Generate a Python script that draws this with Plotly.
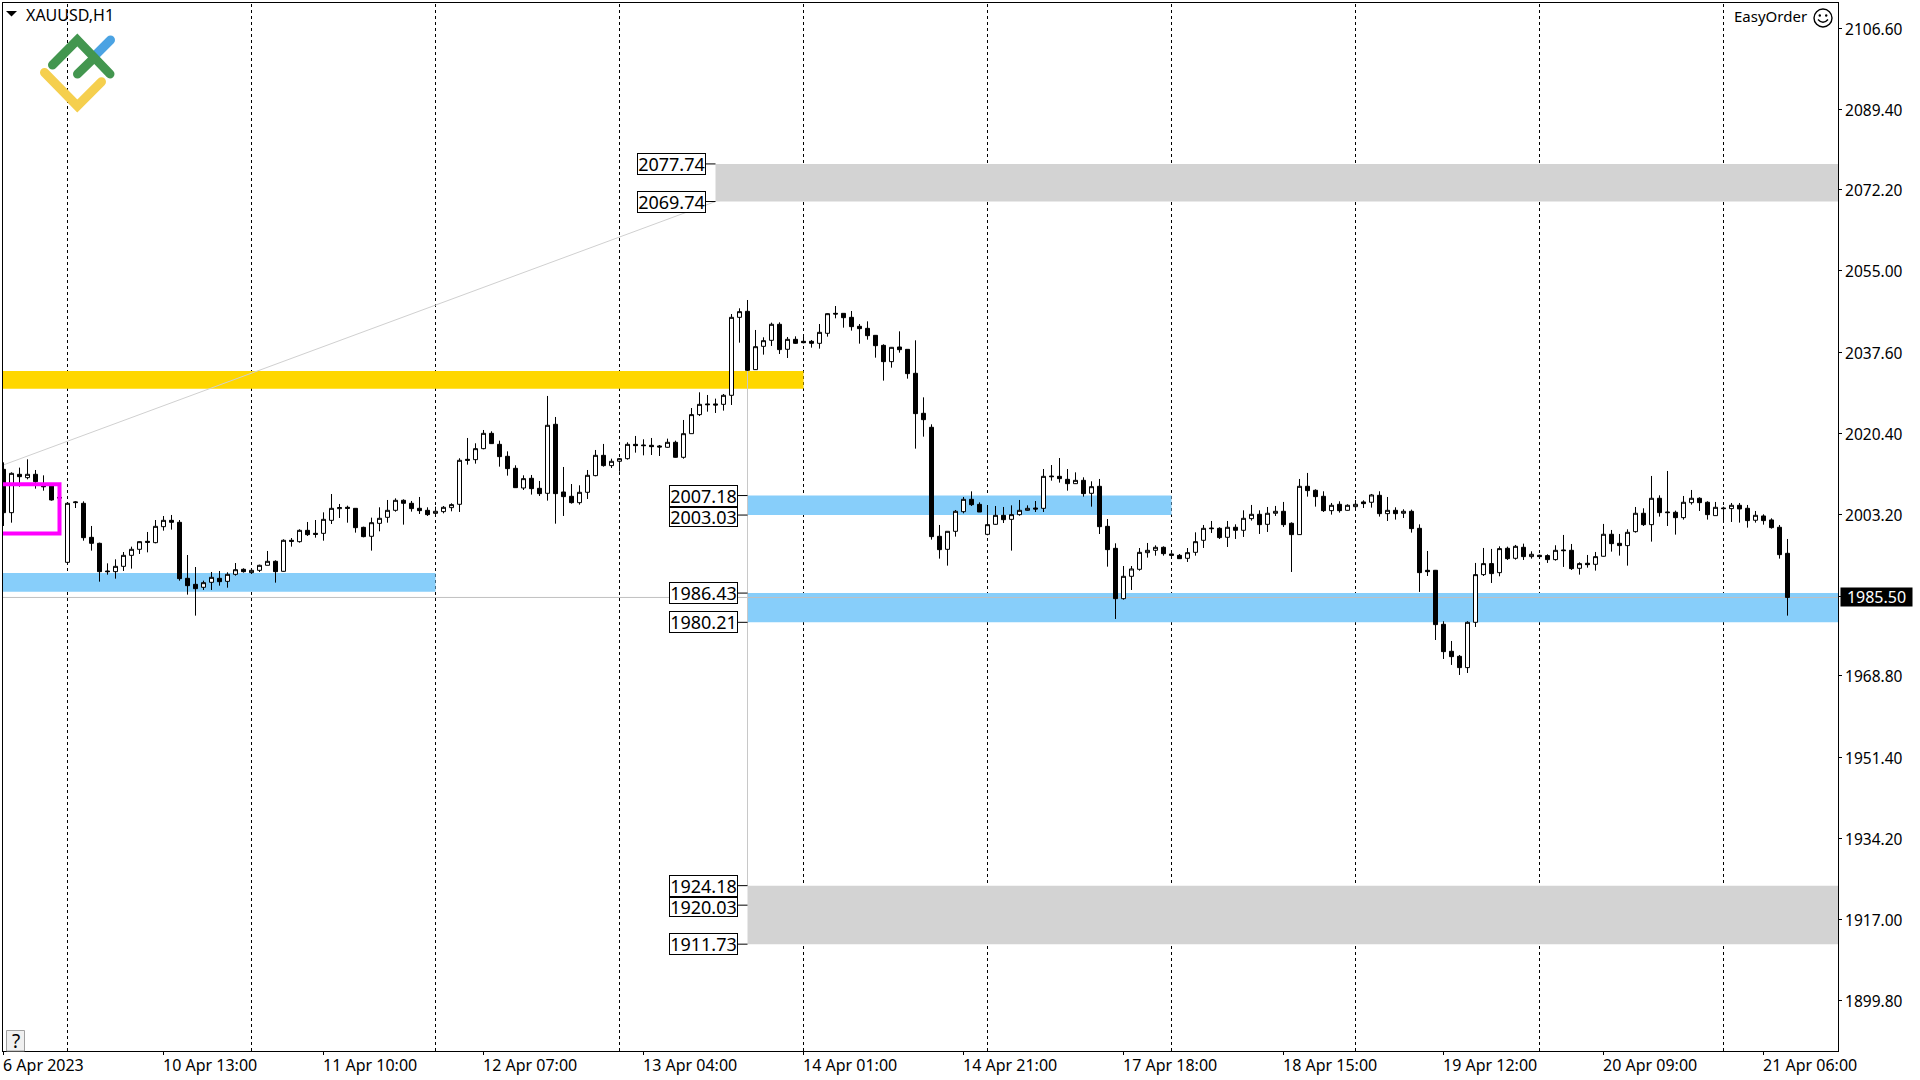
import base64
import plotly.graph_objects as go

# ---------- chart data (XAUUSD H1) ----------
direction = ("BWBWBBBBWW" "BBBBWWWWBW" "WBBBBWWBWW" "BWWWBWBWBB" "WWWBBBWWWW"
             "BBBBWWWWBW" "WBBBBWBBWB" "BBWWWBWWWB" "BBBWBWWWBB" "WWWBWWWBWB"
             "BBWWBBBBBB" "BWBBBBBBWW" "WBBWWBWWWB" "WBBBWBWBBB" "WWWWWBBBWW"
             "WBBWBWWBWW" "BBWBBBWBWW" "BWBWBWBBBB" "BBBWWWBWBW" "BWBBWBBWBW"
             "WBBWWBWBBB" "WWBBWBWBBW" "BBBB")

high_ = [
 2014.25,2012.12,2013.12,2014.89,2012.62,2011.48,2009.22,2007.30,2005.67,2005.95,
 2005.95,2000.71,1997.16,1992.76,1993.61,1995.17,1996.31,1997.44,1999.43,2001.98,
 2002.83,2003.05,2001.98,1994.53,1991.98,1989.07,1990.92,1991.13,1990.85,1992.83,
 1991.70,1991.49,1992.48,1995.39,1993.40,1997.87,1998.15,2000.00,2001.56,2001.98,
 2003.61,2007.51,2005.39,2005.03,2004.46,2000.56,2002.48,2004.68,2006.24,2006.59,
 2006.38,2006.03,2006.88,2004.68,2004.82,2004.96,2005.53,2015.11,2019.43,2018.30,
 2021.13,2020.85,2018.86,2016.59,2013.62,2011.49,2011.56,2010.28,2028.37,2023.90,
 2013.26,2009.64,2009.36,2012.62,2016.88,2018.16,2015.03,2015.18,2018.51,2019.86,
 2019.15,2019.43,2017.94,2019.29,2018.86,2023.26,2025.81,2029.15,2028.58,2027.80,
 2028.79,2045.81,2047.02,2048.79,2042.41,2040.85,2043.97,2044.04,2040.92,2041.06,
 2040.99,2040.28,2043.68,2045.95,2047.51,2045.95,2046.45,2043.68,2044.25,2041.34,
 2039.36,2038.79,2042.12,2038.29,2040.21,2028.08,2022.34,2000.92,1999.57,2004.11,
 2006.88,2008.08,2005.74,2005.17,2004.96,2004.75,2005.10,2006.24,2005.10,2006.02,
 2012.83,2013.68,2015.17,2012.83,2012.12,2011.06,2010.21,2010.71,2002.19,1997.02,
 1992.19,1992.19,1996.02,1997.09,1996.59,1996.38,1994.89,1994.75,1996.02,1999.36,
 2000.92,2001.77,2000.43,2001.77,2001.06,2004.04,2005.18,2004.04,2004.75,2004.97,
 2005.82,2001.49,2010.71,2011.99,2008.51,2008.09,2005.60,2005.96,2005.32,2006.24,
 2006.17,2007.52,2008.09,2006.88,2004.68,2004.26,2004.19,2001.06,1995.39,1991.35,
 1980.43,1976.24,1973.26,1980.43,1992.84,1996.03,1995.82,1996.38,1996.31,1996.67,
 1996.95,1995.32,1994.61,1994.68,1996.60,1998.80,1996.88,1992.98,1994.54,1995.18,
 2001.14,1999.86,1999.01,2000.00,2004.75,2004.47,2011.35,2007.23,2012.41,2003.97,
 2007.09,2008.37,2006.81,2005.96,2005.82,2004.82,2005.60,2005.60,2005.18,2003.90,
 2003.19,2002.34,2000.92,1997.94]

body_top = [
 2012.76,2011.91,2011.70,2011.70,2011.70,2009.22,2009.22,2006.80,2005.53,2005.81,
 2005.53,1998.29,1997.02,1991.13,1992.12,1994.46,1995.74,1997.37,1997.44,2000.63,
 2001.91,2001.91,2001.49,1989.57,1988.29,1988.65,1989.78,1989.57,1990.42,1991.41,
 1991.49,1991.27,1992.34,1993.19,1993.19,1997.66,1997.66,1999.78,1999.78,1999.14,
 2002.12,2004.46,2004.61,2004.68,2004.46,2000.42,2001.41,2002.34,2004.04,2006.17,
 2006.17,2005.53,2004.47,2004.04,2003.83,2004.68,2005.25,2014.68,2014.89,2017.16,
 2020.42,2020.42,2018.08,2015.53,2012.98,2010.78,2010.85,2008.72,2022.13,2022.34,
 2007.94,2007.02,2007.87,2011.49,2015.74,2015.74,2014.47,2015.03,2018.08,2018.08,
 2017.94,2017.87,2017.73,2018.51,2018.51,2020.35,2024.40,2026.59,2026.67,2026.67,
 2028.51,2045.10,2046.31,2046.38,2038.86,2040.14,2043.62,2043.62,2040.42,2040.42,
 2040.00,2040.00,2041.91,2045.88,2045.95,2045.95,2045.10,2043.19,2042.76,2041.27,
 2039.14,2038.72,2038.79,2038.29,2033.19,2024.68,2021.70,1998.51,1999.57,2003.83,
 2006.38,2006.38,2005.31,2000.99,2002.97,2002.97,2003.12,2004.04,2004.46,2004.53,
 2011.27,2011.34,2011.27,2010.63,2010.42,2010.42,2009.07,2009.15,2000.63,1995.95,
 1990.00,1991.56,1995.10,1995.53,1996.17,1996.17,1994.75,1994.46,1995.03,1997.37,
 2000.21,2000.28,2000.21,2000.43,2000.43,2002.34,2003.19,2003.19,2003.41,2003.83,
 2003.83,2001.28,2009.15,2009.15,2008.30,2007.02,2005.11,2005.32,2005.11,2005.32,
 2005.82,2007.31,2007.23,2004.04,2004.04,2003.83,2003.83,2000.21,1991.28,1991.28,
 1979.79,1974.04,1972.98,1980.21,1990.36,1992.70,1992.70,1995.89,1995.96,1996.38,
 1996.17,1994.68,1994.47,1994.40,1995.53,1995.60,1995.53,1992.70,1992.77,1994.19,
 1998.94,1998.94,1997.02,1999.36,2003.41,2003.41,2006.60,2006.60,2003.69,2003.62,
 2005.75,2006.60,2006.60,2005.75,2004.68,2004.54,2005.11,2005.11,2004.47,2002.98,
 2002.84,2001.99,2000.43,1994.89]

body_bot = [
 2003.54,2003.54,2011.20,2010.99,2010.14,2009.07,2006.24,2006.66,1992.97,2005.67,
 1998.22,1997.02,1990.99,1990.99,1990.99,1992.12,1994.46,1995.74,1997.23,1997.16,
 2000.56,2001.49,1989.50,1988.01,1987.37,1987.66,1988.72,1988.86,1988.93,1990.42,
 1990.99,1990.78,1991.27,1992.34,1990.99,1991.06,1997.44,1997.37,1998.86,1998.93,
 1999.14,2001.91,2004.39,2004.46,2000.35,1998.44,1998.51,2001.27,2002.55,2004.04,
 2005.53,2004.40,2003.97,2003.12,2003.40,2003.76,2004.61,2005.32,2014.68,2014.82,
 2017.16,2018.23,2015.46,2012.91,2008.86,2008.79,2008.65,2007.59,2007.66,2007.59,
 2006.95,2005.67,2005.67,2007.87,2011.42,2013.55,2013.55,2014.47,2015.03,2017.80,
 2017.80,2017.59,2017.52,2017.45,2015.32,2015.32,2020.35,2024.40,2026.52,2026.45,
 2026.59,2028.51,2045.10,2033.83,2033.97,2038.93,2040.21,2038.23,2038.30,2039.57,
 2039.71,2039.57,2039.57,2041.70,2045.81,2045.03,2043.12,2042.69,2041.20,2039.07,
 2035.67,2035.67,2038.22,2033.12,2024.61,2023.33,1998.44,1995.67,1995.74,1999.57,
 2003.75,2005.24,2003.68,1998.93,2001.06,2002.05,2002.12,2003.12,2004.04,2004.32,
 2004.46,2011.20,2010.78,2009.71,2009.71,2007.59,2007.66,2000.56,1995.67,1985.24,
 1985.24,1990.00,1991.49,1995.03,1995.53,1994.82,1994.46,1993.75,1993.83,1995.10,
 1997.66,2000.14,1998.23,1998.30,1999.79,1999.79,2002.27,2000.99,2001.06,2003.41,
 2000.99,1998.87,1998.87,2008.23,2006.95,2003.97,2003.97,2003.97,2004.04,2004.82,
 2005.46,2005.75,2003.33,2003.33,2003.33,2003.41,2000.14,1990.78,1990.99,1979.72,
 1973.97,1972.91,1970.57,1970.57,1980.21,1990.36,1990.57,1990.78,1993.76,1993.83,
 1994.19,1994.19,1994.19,1993.55,1993.55,1995.46,1991.63,1991.70,1992.48,1992.55,
 1994.26,1996.95,1996.53,1996.53,1999.50,2000.99,2000.99,2003.55,2003.55,2002.48,
 2002.48,2005.67,2005.67,2003.12,2002.91,2004.40,2004.40,2004.33,2001.85,2001.92,
 2001.85,2000.36,1994.61,1985.50]

low_ = [
 2000.71,2001.41,2009.07,2010.63,2008.65,2008.22,2006.10,2006.24,1992.90,2004.53,
 1997.58,1995.46,1988.86,1990.35,1989.50,1991.13,1991.63,1994.75,1995.10,1997.02,
 1999.71,1999.93,1989.07,1986.10,1981.63,1987.09,1987.09,1988.01,1987.58,1990.14,
 1990.78,1990.49,1990.92,1992.34,1988.65,1990.99,1996.31,1997.16,1998.58,1998.22,
 1997.58,2001.13,2002.41,2001.41,1999.29,1998.29,1995.46,1999.57,2001.41,2003.75,
 2000.99,2003.76,2003.26,2002.84,2003.05,2003.40,2003.83,2003.69,2013.76,2013.97,
 2017.02,2018.16,2013.33,2011.42,2008.79,2008.37,2007.38,2007.09,2006.10,2001.20,
 2002.84,2005.46,2005.25,2006.45,2011.28,2013.33,2013.05,2012.27,2014.82,2016.31,
 2015.74,2015.81,2015.60,2017.37,2015.25,2015.03,2020.35,2024.11,2025.03,2024.75,
 2025.25,2026.45,2039.71,2033.69,2033.90,2037.16,2039.01,2037.30,2036.45,2039.43,
 2039.57,2038.65,2038.44,2040.99,2044.89,2042.90,2042.27,2039.50,2040.35,2036.52,
 2031.63,2034.39,2037.58,2032.05,2017.16,2019.71,1997.80,1993.76,1992.27,1998.44,
 2003.40,2004.96,2003.68,1998.72,2000.99,2001.34,1995.46,2002.90,2003.97,2003.68,
 2003.68,2010.35,2009.93,2008.22,2009.64,2006.95,2004.82,1999.00,1992.05,1980.92,
 1985.03,1987.09,1991.20,1993.97,1994.39,1994.39,1994.18,1993.68,1993.05,1994.39,
 1996.03,1999.22,1997.94,1996.24,1997.94,1998.37,2001.85,1999.01,1999.43,2002.84,
 2000.50,1990.92,1998.87,2006.95,2004.82,2003.69,2003.12,2003.55,2003.97,2004.26,
 2004.54,2004.61,2002.70,2001.77,2002.06,2002.41,1999.29,1986.67,1990.07,1976.45,
 1972.41,1971.14,1969.01,1969.43,1979.22,1990.07,1988.58,1990.00,1993.48,1993.55,
 1993.48,1993.76,1993.97,1992.84,1993.33,1991.99,1991.35,1990.36,1991.84,1991.21,
 1994.19,1995.25,1994.40,1992.27,1999.29,2000.71,1997.38,2002.70,2000.71,1998.87,
 2002.06,2005.25,2003.90,2002.06,2002.91,2001.77,2001.56,2001.42,2000.36,2001.42,
 2000.99,2000.14,1993.76,1981.63]

assert len(direction) == len(high_) == len(body_top) == len(body_bot) == len(low_) == 224

bars = list(range(len(high_)))
open_ = [b if d == "W" else t for d, t, b in zip(direction, body_top, body_bot)]
close_ = [t if d == "W" else b for d, t, b in zip(direction, body_top, body_bot)]

price_ticks = [2106.60, 2089.40, 2072.20, 2055.00, 2037.60, 2020.40, 2003.20,
               1985.80, 1968.80, 1951.40, 1934.20, 1917.00, 1899.80]
time_bars = [0, 20, 40, 60, 80, 100, 120, 140, 160, 180, 200, 220]
time_labels = ["6 Apr 2023", "10 Apr 13:00", "11 Apr 10:00", "12 Apr 07:00",
               "13 Apr 04:00", "14 Apr 01:00", "14 Apr 21:00", "17 Apr 18:00",
               "18 Apr 15:00", "19 Apr 12:00", "20 Apr 09:00", "21 Apr 06:00"]
separator_bars = [8, 31, 54, 77, 100, 123, 146, 169, 192, 215]
last_price = 1985.50

# zones: first bar, last bar, upper price, lower price, colour
X_END = 240
X_START = -5
zones = [
    (89, X_END, 2077.74, 2069.74, "#D3D3D3"),
    (93, X_END, 1924.18, 1911.73, "#D3D3D3"),
    (X_START, 100, 2033.7, 2029.9, "#FFD700"),
    (X_START, 54, 1990.7, 1986.7, "#87CEFA"),
    (93, 146, 2007.18, 2003.03, "#87CEFA"),
    (93, X_END, 1986.43, 1980.21, "#87CEFA"),
]
# price boxes: level, bar where the tick joins the zone
level_boxes = [(2077.74, 89), (2069.74, 89), (2007.18, 93), (2003.03, 93), (1986.43, 93),
               (1980.21, 93), (1924.18, 93), (1920.03, 93), (1911.73, 93)]
tight_boxes = [2003.03, 1920.03]

# ---------- layout helpers ----------
W, H = 1920, 1080
L, R, T, B = 3, 1838, 3, 1051
FONT = "Noto Sans"

def px(xp):
    return (xp - L) / (R - L)

def py(yp):
    return 1 - (yp - T) / (B - T)

def svg_uri(svg):
    return "data:image/svg+xml;base64," + base64.b64encode(svg.encode()).decode()

logo = """<svg xmlns='http://www.w3.org/2000/svg' width='90' height='90' viewBox='35 30 90 90'>
<g fill='none' stroke-linecap='round' stroke-linejoin='miter' stroke-width='9'>
<path d='M97 53.5 L110.5 40' stroke='#4BA3E3'/>
<path d='M44.5 72.5 L77.3 106 L101.5 81.7' stroke='#F5CF4E'/>
<path d='M52.5 65 L77.3 40 L110 74' stroke='#43964F'/>
<path d='M77.5 74 L94 58' stroke='#43964F'/>
</g></svg>"""

smile = """<svg xmlns='http://www.w3.org/2000/svg' width='22' height='22' viewBox='0 0 22 22'>
<circle cx='11' cy='11' r='9' fill='white' stroke='black' stroke-width='1.4'/>
<circle cx='7.8' cy='8.5' r='1.2' fill='black'/><circle cx='14.2' cy='8.5' r='1.2' fill='black'/>
<path d='M6 12.5 Q11 18 16 12.5' fill='none' stroke='black' stroke-width='1.4'/></svg>"""

shapes = []
for x0, x1, y1, y0, col in zones:
    shapes.append(dict(type="rect", xref="x", yref="y", x0=x0, x1=x1, y0=y0, y1=y1,
                       fillcolor=col, line_width=0, layer="below"))
# thin grey objects
shapes.append(dict(type="line", xref="x", yref="y", x0=X_START, x1=X_END, y0=last_price, y1=last_price,
                   line=dict(color="#C0C0C0", width=1), layer="below"))
shapes.append(dict(type="line", xref="x", yref="y", x0=0, x1=89, y0=2013.7, y1=2069.74,
                   line=dict(color="#D0D0D0", width=1), layer="below"))
shapes.append(dict(type="line", xref="x", yref="y", x0=93, x1=93, y0=1924.18, y1=2033.8,
                   line=dict(color="#C8C8C8", width=1), layer="below"))
# period separators
for s in separator_bars:
    shapes.append(dict(type="line", xref="x", yref="paper", x0=s, x1=s, y0=0, y1=1,
                       line=dict(color="black", width=1, dash="3px,3px"), layer="below"))
# magenta box
shapes.append(dict(type="rect", xref="x", yref="y", x0=X_START, x1=7, y0=1999.1, y1=2009.6,
                   line=dict(color="#FF00FF", width=4), layer="above"))
# level ticks
BOX_X = 91.8
BOX_X_TOP = 87.8
for lvl, bar in level_boxes:
    start = BOX_X_TOP if bar == 89 else BOX_X
    shapes.append(dict(type="line", xref="x", yref="y", x0=start, x1=bar, y0=lvl, y1=lvl,
                       line=dict(color="black", width=1), layer="above"))
# menu triangle
shapes.append(dict(type="path", xref="paper", yref="paper",
                   path=f"M {px(6)} {py(11)} L {px(17)} {py(11)} L {px(11.5)} {py(16.5)} Z",
                   fillcolor="black", line_width=0, layer="above"))
# help button
shapes.append(dict(type="rect", xref="paper", yref="paper", x0=px(6.5), x1=px(24.5), y0=py(1051), y1=py(1030.5),
                   fillcolor="#F0F0F0", line=dict(color="#A0A0A0", width=1), layer="above"))

annotations = []
for lvl, bar in level_boxes:
    right = BOX_X_TOP if bar == 89 else BOX_X
    tight = lvl in tight_boxes
    annotations.append(dict(x=right, y=lvl, xref="x", yref="y", text=f"{lvl:.2f}", showarrow=False,
                            xanchor="right", yanchor="middle", bgcolor="white", bordercolor="black",
                            borderwidth=1, borderpad=0, width=67, height=18 if tight else 20,
                            yshift=-1.5 if tight else 0,
                            font=dict(family=FONT, size=18, color="black")))
for b, t in zip(time_bars, time_labels):
    annotations.append(dict(x=b, y=0, xref="x", yref="paper", text=t, showarrow=False,
                            xanchor="left", yanchor="top", yshift=-1, xshift=-3,
                            font=dict(family=FONT, size=16, color="black")))
annotations.append(dict(x=1, y=last_price, xref="paper", yref="y", text=f"{last_price:.2f}", showarrow=False,
                        xanchor="left", yanchor="middle", xshift=2, bgcolor="black", borderpad=0,
                        width=71, height=18, font=dict(family=FONT, size=16, color="white")))
annotations.append(dict(x=px(24), y=py(15), xref="paper", yref="paper", text="XAUUSD,H1", showarrow=False,
                        xanchor="left", yanchor="middle", font=dict(family=FONT, size=16, color="black")))
annotations.append(dict(x=px(1809), y=py(16), xref="paper", yref="paper", text="EasyOrder", showarrow=False,
                        xanchor="right", yanchor="middle", font=dict(family=FONT, size=15, color="black")))
annotations.append(dict(x=px(15.5), y=py(1041), xref="paper", yref="paper", text="?", showarrow=False,
                        xanchor="center", yanchor="middle", font=dict(family=FONT, size=19, color="black")))

images = [
    dict(source=svg_uri(logo), xref="paper", yref="paper", x=px(35), y=py(30), sizex=90 / (R - L),
         sizey=90 / (B - T), xanchor="left", yanchor="top", sizing="stretch", layer="above"),
    dict(source=svg_uri(smile), xref="paper", yref="paper", x=px(1812), y=py(7), sizex=22 / (R - L),
         sizey=22 / (B - T), xanchor="left", yanchor="top", sizing="stretch", layer="above"),
]

fig = go.Figure(go.Candlestick(
    x=bars, open=open_, high=high_, low=low_, close=close_,
    whiskerwidth=0,
    line_width=1,
    increasing=dict(line=dict(color="black", width=1), fillcolor="white"),
    decreasing=dict(line=dict(color="black", width=1), fillcolor="black"),
    hoverinfo="skip", showlegend=False,
))

fig.update_layout(
    width=W, height=H,
    margin=dict(l=L, r=W - R, t=T, b=H - B, pad=0),
    paper_bgcolor="white", plot_bgcolor="white",
    boxgap=0.5, boxgroupgap=0,
    showlegend=False,
    shapes=shapes, annotations=annotations, images=images,
    font=dict(family=FONT, size=15.5, color="black"),
    xaxis=dict(range=[-0.0625, 229.3125], rangeslider=dict(visible=False), showgrid=False, zeroline=False,
               tickmode="array", tickvals=time_bars, ticktext=["" for _ in time_bars], ticks="outside", ticklen=3,
               tickcolor="black", tickwidth=1, showline=True, linecolor="black", linewidth=1, mirror=True),
    yaxis=dict(range=[1889.0, 2111.98], side="right", showgrid=False, zeroline=False,
               tickmode="array", tickvals=price_ticks, ticktext=[f"{p:.2f}" for p in price_ticks],
               ticks="outside", ticklen=3, tickcolor="black", tickwidth=1, showline=True, linecolor="black",
               linewidth=1, mirror=True, ticklabelshift=1,
               tickfont=dict(family=FONT, size=15.5, color="black")),
)

fig.write_html("out.html", config=dict(displayModeBar=False),
               post_script="document.body.style.margin='0';document.documentElement.style.overflow='hidden';")
